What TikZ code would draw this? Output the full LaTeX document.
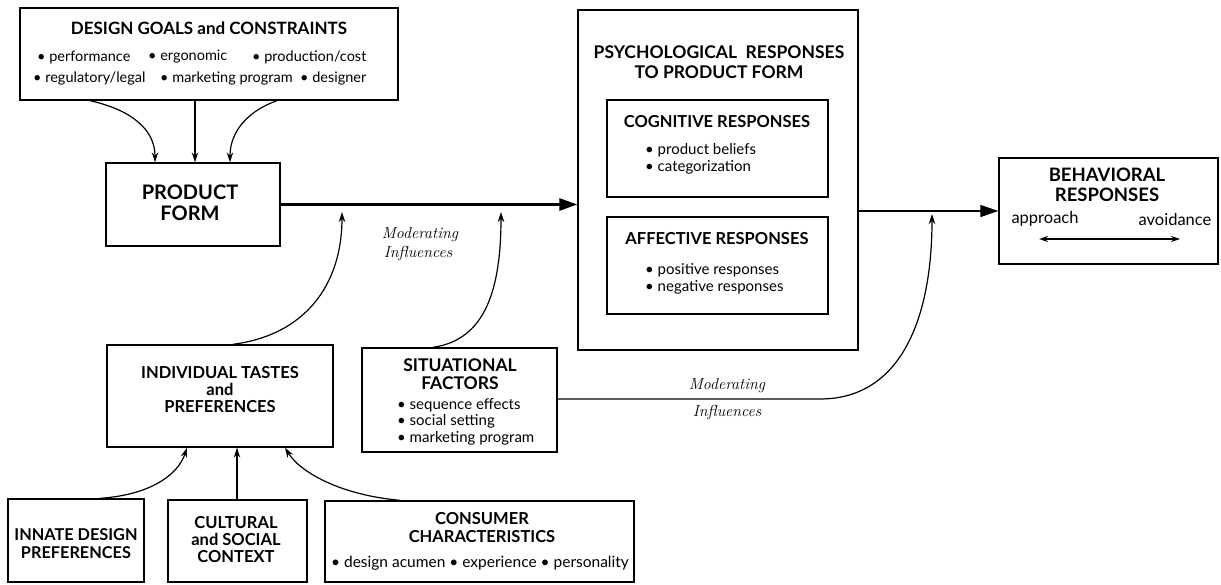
\documentclass[tikz,border=0pt]{standalone}
\usepackage{fontspec}
\newfontfamily\lato{Lato}
\usetikzlibrary{arrows.meta,calc}
\tikzset{
  box/.style={draw, line width=1.4pt, inner sep=0pt},
  ttl/.style={font=\lato\bfseries\fontsize{16.5}{17}\selectfont, align=center, inner sep=0pt},
  itm/.style={font=\lato\fontsize{14.5}{16}\selectfont, inner sep=0pt},
  mod/.style={font=\itshape\fontsize{16}{16}\selectfont\addfontfeature{LetterSpace=5}, inner sep=0pt},
  conn/.style={line width=1.2pt, -{Stealth[length=10pt,width=6.5pt]}},
  bigarrow/.style={-{Triangle[length=18pt,width=12pt]}},
}
\begin{document}
\begin{tikzpicture}[x=1pt,y=-1pt]
\useasboundingbox (0,0) rectangle (1221,585);

% boxes
\node[box, minimum width=378pt, minimum height=92pt] (goals) at (209,54) {};
\node[box, minimum width=174pt, minimum height=83pt] (product) at (193,204.5) {};
\node[box, minimum width=280pt, minimum height=340pt] (psych) at (718,180) {};
\node[box, minimum width=221pt, minimum height=97pt] (cog) at (717.5,148.5) {};
\node[box, minimum width=221pt, minimum height=97pt] (aff) at (717.5,265.5) {};
\node[box, minimum width=219pt, minimum height=106pt] (behav) at (1108.5,211) {};
\node[box, minimum width=226pt, minimum height=102pt] (indiv) at (220,396) {};
\node[box, minimum width=195pt, minimum height=104pt] (situ) at (459.5,400) {};
\node[box, minimum width=136pt, minimum height=83pt] (innate) at (76,540.5) {};
\node[box, minimum width=139pt, minimum height=82pt] (cult) at (237.5,541) {};
\node[box, minimum width=309pt, minimum height=81pt] (cons) at (479.5,541.5) {};

% texts
\node[ttl, font=\lato\bfseries\fontsize{17}{17}\selectfont] (goalsT) at (209,28) {DESIGN GOALS and CONSTRAINTS};
\node[itm, anchor=west] (g1) at (37,57) {• performance};
\node[itm, anchor=west] (g2) at (148,57) {• ergonomic};
\node[itm, anchor=west] (g3) at (252,57) {• production/cost};
\node[itm, anchor=west] (g4) at (33,78) {• regulatory/legal};
\node[itm, anchor=west] (g5) at (160,78) {• marketing program};
\node[itm, anchor=west] (g6) at (300,78) {• designer};

\node[ttl, font=\lato\bfseries\fontsize{20}{21}\selectfont] (productT) at (190,203) {PRODUCT\\FORM};

\node[ttl, font=\lato\bfseries\fontsize{17.5}{20}\selectfont] (psychT) at (719,62) {PSYCHOLOGICAL \ RESPONSES\\TO PRODUCT FORM};
\node[ttl] (cogT) at (717,122) {COGNITIVE RESPONSES};
\node[itm, anchor=west, align=left, font=\lato\fontsize{15}{17}\selectfont] (cogI) at (645,158.5) {• product beliefs\\• categorization};
\node[ttl] (affT) at (717,239) {AFFECTIVE RESPONSES};
\node[itm, anchor=west, align=left, font=\lato\fontsize{15}{17}\selectfont] (affI) at (645,278.5) {• positive responses\\• negative responses};

\node[ttl, font=\lato\bfseries\fontsize{18.5}{20}\selectfont] (behavT) at (1107,185) {BEHAVIORAL\\RESPONSES};
\node[itm, font=\lato\fontsize{16.5}{16}\selectfont] (appr) at (1045,219) {approach};
\node[itm, font=\lato\fontsize{16.5}{16}\selectfont] (avoid) at (1175,219) {avoidance};

\node[ttl] (indivT) at (220,390) {INDIVIDUAL TASTES\\and\\PREFERENCES};
\node[ttl, font=\lato\bfseries\fontsize{17.5}{18}\selectfont] (situT) at (460,374) {SITUATIONAL\\FACTORS};
\node[itm, anchor=west, align=left, font=\lato\fontsize{15}{16.5}\selectfont] (situI) at (397,421.5) {• sequence effects\\• social setting\\• marketing program};

\node[ttl, font=\lato\bfseries\fontsize{16.3}{18}\selectfont] (innateT) at (76,544) {INNATE DESIGN\\PREFERENCES};
\node[ttl] (cultT) at (236,540) {CULTURAL\\and SOCIAL\\CONTEXT};
\node[ttl, font=\lato\bfseries\fontsize{16.5}{18}\selectfont] (consT) at (482,528) {CONSUMER\\CHARACTERISTICS};
\node[itm, font=\lato\fontsize{15.5}{16}\selectfont] (consI) at (480,563) {• design acumen • experience • personality};

\node[mod] (mod1a) at (420,235) {Moderating};
\node[mod] (mod1b) at (418,254) {Influences};
\node[mod] (mod2a) at (727,386) {Moderating};
\node[mod] (mod2b) at (727,412) {Influences};

% connector end coordinates
\coordinate (m1) at (342,212);
\coordinate (m2) at (501,212);
\coordinate (m3) at (932,214);
\coordinate (bend) at (820,399);
\coordinate (ap) at (1039,239);
\coordinate (av) at (1180,239);

% goals -> product
\draw[conn] ([xshift=-119pt]goals.south) .. controls (132,110) and (155,130) .. ([xshift=-38pt]product.north);
\draw[conn] ([xshift=2pt]product.north |- goals.south) -- ([xshift=2pt]product.north);
\draw[conn] ([xshift=68pt]goals.south) .. controls (250,110) and (230,130) .. ([xshift=37pt]product.north);

% main arrows
\draw[line width=2.8pt, bigarrow] (product.east) -- (product.east -| psych.west);
\draw[line width=1.6pt, bigarrow] (behav.west -| psych.east) -- (behav.west);

% moderating influences
\draw[conn] ([xshift=13pt]indiv.north) .. controls (305,335) and (342,285) .. (m1);
\draw[conn] ([xshift=-26.5pt]situ.north) .. controls (485,340) and (501,290) .. (m2);
\draw[conn] (situ.east |- bend) -- (bend) .. controls (900,399) and (932,320) .. (m3);

% bottom -> individual
\draw[conn] ([xshift=24pt]innate.north) .. controls (150,495) and (178,475) .. ([xshift=-33pt]indiv.south);
\draw[conn] ([xshift=-0.5pt]cult.north) -- ([xshift=17pt]indiv.south);
\draw[conn] ([xshift=-79.5pt]cons.north) .. controls (340,495) and (300,472) .. ([xshift=65pt]indiv.south);

% approach / avoidance
\draw[line width=1.3pt, {Stealth[length=9pt,width=6pt]}-{Stealth[length=9pt,width=6pt]}] (ap) -- (av);
\end{tikzpicture}
\end{document}
